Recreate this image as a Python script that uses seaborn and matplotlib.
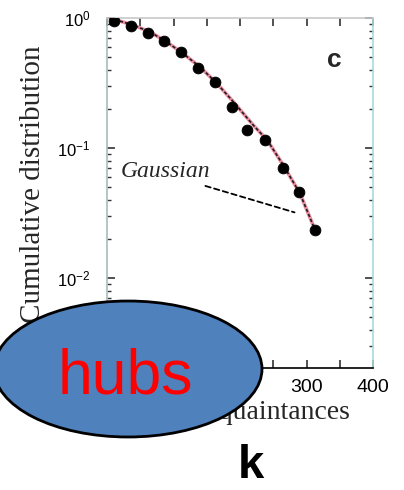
import matplotlib
matplotlib.use("Agg")
import matplotlib.pyplot as plt
from matplotlib.patches import Ellipse
from matplotlib.ticker import LogLocator, MultipleLocator, NullFormatter
import seaborn as sns

# ---- data ----
acquaintances_k = [10, 36, 61, 85, 111, 137, 163, 188, 211, 238, 264, 289, 313]
cumulative_dist = [0.95, 0.87, 0.77, 0.66, 0.545, 0.41, 0.32, 0.208, 0.137, 0.115, 0.070, 0.046, 0.0234]

fit_k = [4, 39, 65, 90, 115, 140, 165, 189, 220, 241, 265, 290, 313]
fit_cdf = [1.0, 0.883, 0.78, 0.653, 0.53, 0.42, 0.315, 0.230, 0.150, 0.115, 0.074, 0.045, 0.0234]

x_ticks = [0, 100, 200, 300, 400]
x_tick_labels = ["0", "100", "200", "300", "400"]

sns.set_style("ticks")
plt.rcParams["font.family"] = ["Liberation Sans", "DejaVu Sans"]

W, H = 404, 490
fig = plt.figure(figsize=(W / 100, H / 100), dpi=100)
ax = fig.add_axes([107 / W, 1 - 368 / H, (373 - 107) / W, (368 - 18) / H])

sns.lineplot(x=fit_k, y=fit_cdf, ax=ax, color="#ee8fa4", lw=2.6, sort=False, zorder=2)
sns.lineplot(x=fit_k, y=fit_cdf, ax=ax, color="#202020", lw=1.2, sort=False,
             linestyle=(0, (2, 1.2)), zorder=3)
sns.scatterplot(x=acquaintances_k, y=cumulative_dist, ax=ax, color="black",
                edgecolor="black", s=60, marker="o", zorder=4, legend=False)

ax.set_yscale("log")
ax.set_xlim(0, 400)
ax.set_ylim(0.00204, 1.0)
ax.set_xticks(x_ticks)
ax.set_xticklabels(x_tick_labels)
ax.xaxis.set_minor_locator(MultipleLocator(50))
ax.yaxis.set_major_locator(LogLocator(base=10, numticks=10))
ax.yaxis.set_minor_locator(LogLocator(base=10, subs=range(2, 10), numticks=20))
ax.yaxis.set_minor_formatter(NullFormatter())

ax.tick_params(axis="both", which="both", direction="in", top=True, right=True, colors="#333333")
ax.tick_params(axis="y", which="major", length=6, width=1.2, labelsize=12, pad=12, labelcolor="black")
ax.tick_params(axis="y", which="minor", length=3, width=1)
ax.tick_params(axis="x", which="major", length=6, width=1.2, labelsize=14, pad=8, labelcolor="black")
ax.tick_params(axis="x", which="minor", length=6, width=1.2)

ax.spines["left"].set_color("#a9bcbc")
ax.spines["top"].set_color("#c8c8c8")
ax.spines["right"].set_color("#a8dcd8")
ax.spines["bottom"].set_color("black")
for s in ax.spines.values():
    s.set_linewidth(1.2)

ax.set_xlabel("")
ax.set_ylabel("")

# annotation "Gaussian"
ax.annotate("", xy=(286, 0.0316), xytext=(144, 0.0519),
            arrowprops=dict(arrowstyle="-", linestyle=(0, (3, 2)), color="black", lw=1.3))
ax.text(21, 0.0598, "Gaussian", family="Liberation Serif", style="italic",
        fontsize=17, va="baseline", ha="left")
fig.text(334.5 / W, 1 - 60 / H, "c", fontsize=19, fontweight="bold", ha="center", va="center",
         family="Liberation Sans")

# axis labels
fig.text(33 / W, 1 - 184 / H, "Cumulative distribution", rotation=90, family="Liberation Serif",
         fontsize=21, ha="center", va="center")
fig.text(350 / W, 1 - 419 / H, "Number of acquaintances", family="Liberation Serif",
         fontsize=20, ha="right", va="baseline")

# overlay ellipse with "hubs"
ell = Ellipse(xy=(128 / W, 1 - 369 / H), width=268 / W, height=136 / H,
              transform=fig.transFigure, facecolor="#4f81bd", edgecolor="black", lw=2, zorder=10)
fig.add_artist(ell)
fig.text(125 / W, 1 - 393 / H, "hubs", color="red", fontsize=45, family="Liberation Sans",
         ha="center", va="baseline", zorder=11)

fig.text(251 / W, 1 - 478 / H, "k", color="black", fontsize=34, fontweight="bold",
         family="Liberation Sans", ha="center", va="baseline")

fig.savefig("out.png", dpi=100, facecolor="white")
